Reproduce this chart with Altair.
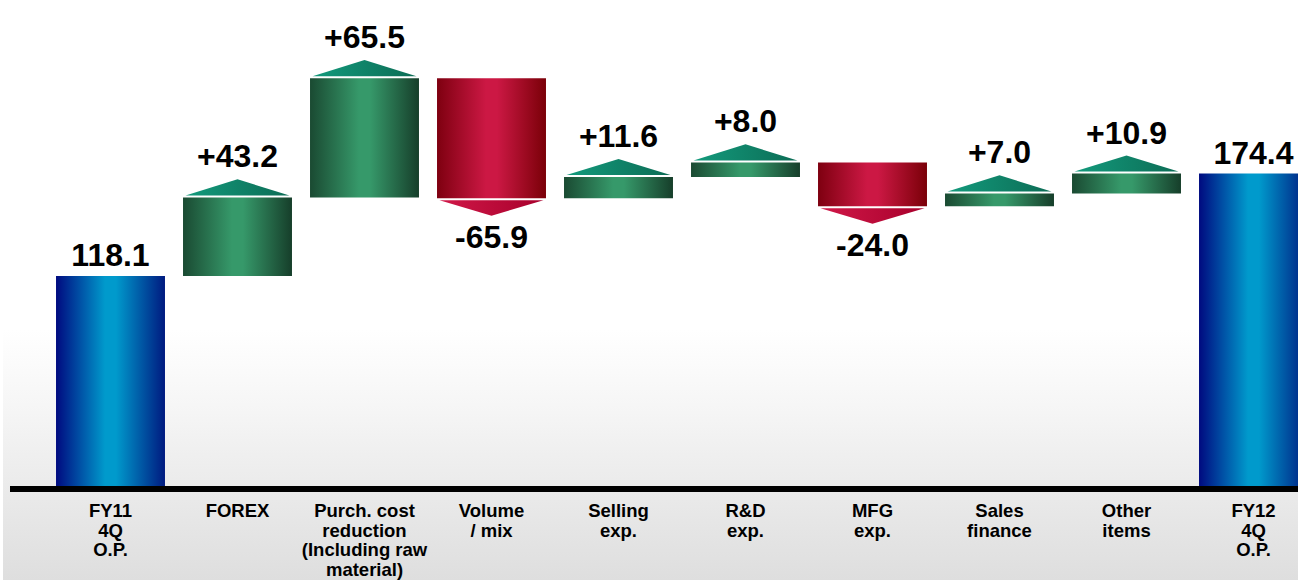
import altair as alt
import pandas as pd

# ---- data ----
categories = [
    "FY11\n4Q\nO.P.",
    "FOREX",
    "Purch. cost\nreduction\n(Including raw\nmaterial)",
    "Volume\n/ mix",
    "Selling\nexp.",
    "R&D\nexp.",
    "MFG\nexp.",
    "Sales\nfinance",
    "Other\nitems",
    "FY12\n4Q\nO.P.",
]
values = [118.1, 43.2, 65.5, -65.9, 11.6, 8.0, -24.0, 7.0, 10.9, 174.4]
kinds = ["total", "up", "up", "down", "up", "up", "down", "up", "up", "total"]
value_labels = ["118.1", "+43.2", "+65.5", "-65.9", "+11.6", "+8.0", "-24.0", "+7.0", "+10.9", "174.4"]

# ---- build waterfall table ----
rows = []
running = 0.0
for i, (c, v, k, lab) in enumerate(zip(categories, values, kinds, value_labels)):
    if k == "total":
        start, end = 0.0, v
    else:
        start, end = running, running + v
    running = end
    rows.append(dict(idx=i, cat=c, kind=k, label=lab,
                     bottom=min(start, end), top=max(start, end),
                     xl=i - 0.429, xr=i + 0.429))
df = pd.DataFrame(rows)

W, H = 1298, 580
PX_PER_UNIT = 1.82
ZERO_PX = 491.0
ymin = -(H - ZERO_PX) / PX_PER_UNIT
ymax = ZERO_PX / PX_PER_UNIT
STEP = 127.0
FIRST = 110.5
xmin = -FIRST / STEP
xmax = xmin + W / STEP

xsc = alt.Scale(domain=[xmin, xmax], nice=False, zero=False)
ysc = alt.Scale(domain=[ymin, ymax], nice=False, zero=False)


def hgrad(edge_l, mid, edge_r):
    return alt.LinearGradient(
        gradient="linear", x1=0, x2=1, y1=0, y2=0,
        stops=[alt.GradientStop(color=edge_l, offset=0),
               alt.GradientStop(color=mid, offset=0.45),
               alt.GradientStop(color=mid, offset=0.55),
               alt.GradientStop(color=edge_r, offset=1)])


blue_grad = hgrad("#000a80", "#009acc", "#001a80")
green_grad = hgrad("#1a4a32", "#36996a", "#163e2a")
red_grad = hgrad("#7e0010", "#cc1844", "#7a0008")
tri_green = alt.LinearGradient(
    gradient="linear", x1=0, x2=1, y1=0, y2=0,
    stops=[alt.GradientStop(color="#139a7c", offset=0),
           alt.GradientStop(color="#0c6c55", offset=1)])
tri_red = alt.LinearGradient(
    gradient="linear", x1=0, x2=1, y1=0, y2=0,
    stops=[alt.GradientStop(color="#d01848", offset=0),
           alt.GradientStop(color="#a8002c", offset=1)])
bg_grad = alt.LinearGradient(
    gradient="linear", x1=0, x2=0, y1=0, y2=1,
    stops=[alt.GradientStop(color="#ffffff", offset=0),
           alt.GradientStop(color="#f6f6f6", offset=0.3),
           alt.GradientStop(color="#ebebeb", offset=0.62),
           alt.GradientStop(color="#dedede", offset=1)])

base = alt.Chart(df)

background = alt.Chart(pd.DataFrame({"a": [0]})).mark_rect(fill=bg_grad).encode(
    x=alt.value(3), x2=alt.value(W), y=alt.value(330), y2=alt.value(H))

baseline = alt.Chart(pd.DataFrame({"z": [0.0]})).mark_rule(
    color="black", strokeWidth=6, yOffset=-2).encode(
    y=alt.Y("z:Q", scale=ysc, axis=None), x=alt.value(10), x2=alt.value(W))


def bar_layer(kind, grad):
    return base.transform_filter(f"datum.kind == '{kind}'").mark_rect(fill=grad).encode(
        x=alt.X("xl:Q", scale=xsc, axis=None), x2="xr:Q",
        y=alt.Y("bottom:Q", scale=ysc, axis=None), y2="top:Q")


bars_total = bar_layer("total", blue_grad)
bars_up = bar_layer("up", green_grad)
bars_down = bar_layer("down", red_grad)

UP_PATH = "M-1,0L1,0L0,-0.31Z"
DOWN_PATH = "M-1,0L1,0L0,0.3Z"
TRI_SIZE = 104 * 104

tri_up = base.transform_filter("datum.kind == 'up'").mark_point(
    shape=UP_PATH, size=TRI_SIZE, filled=True, fill=tri_green, opacity=1,
    strokeWidth=0, yOffset=-2).encode(
    x=alt.X("idx:Q", scale=xsc, axis=None),
    y=alt.Y("top:Q", scale=ysc, axis=None))

tri_down = base.transform_filter("datum.kind == 'down'").mark_point(
    shape=DOWN_PATH, size=TRI_SIZE, filled=True, fill=tri_red, opacity=1,
    strokeWidth=0, yOffset=2).encode(
    x=alt.X("idx:Q", scale=xsc, axis=None),
    y=alt.Y("bottom:Q", scale=ysc, axis=None))

FONT = "Liberation Sans"


def value_text(kind, field, dy):
    return base.transform_filter(f"datum.kind == '{kind}'").mark_text(
        font=FONT, fontSize=32, fontWeight="bold", color="black",
        align="center", baseline="alphabetic", dy=dy).encode(
        x=alt.X("idx:Q", scale=xsc, axis=None),
        y=alt.Y(f"{field}:Q", scale=ysc, axis=None),
        text="label:N")


lab_total = value_text("total", "top", -10)
lab_up = value_text("up", "top", -30)
lab_down = value_text("down", "bottom", 50)

cat_text = base.mark_text(
    font=FONT, fontSize=18.5, fontWeight="bold", color="black", align="center",
    baseline="alphabetic", lineBreak="\n", lineHeight=19.5).encode(
    x=alt.X("idx:Q", scale=xsc, axis=None),
    y=alt.value(517),
    text="cat:N")

chart = alt.layer(
    background, bars_total, bars_up, bars_down, tri_up, tri_down,
    baseline, lab_total, lab_up, lab_down, cat_text
).properties(
    width=W, height=H, padding=0, autosize=alt.AutoSizeParams(type="none"),
    background="white"
).configure_view(stroke=None)

chart.save("out.html", embed_options={"renderer": "svg", "actions": False})
